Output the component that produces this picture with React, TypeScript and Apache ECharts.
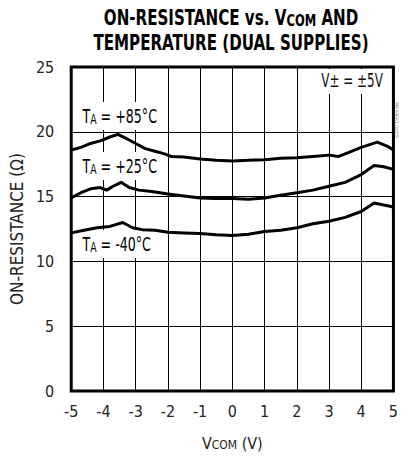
import React, { useEffect, useRef } from "react";
import * as echarts from "echarts";

const vcom85 = [-5, -4.7, -4.4, -4.1, -3.8, -3.55, -3.3, -3.0, -2.7, -2.4, -2.1, -1.9, -1.5, -1.0, -0.5, 0, 0.5, 1.0, 1.5, 2.0, 2.5, 3.0, 3.3, 3.6, 4.0, 4.5, 4.8, 5.0];
const ron85 = [18.6, 18.8, 19.1, 19.3, 19.6, 19.8, 19.5, 19.1, 18.7, 18.5, 18.3, 18.1, 18.05, 17.9, 17.8, 17.75, 17.8, 17.85, 17.95, 18.0, 18.1, 18.2, 18.1, 18.4, 18.8, 19.2, 18.9, 18.6];

const vcom25 = [-5, -4.7, -4.4, -4.1, -3.9, -3.7, -3.45, -3.2, -2.9, -2.5, -2.0, -1.5, -1.0, -0.5, 0, 0.5, 1.0, 1.5, 2.0, 2.5, 3.0, 3.5, 4.0, 4.4, 4.7, 5.0];
const ron25 = [14.9, 15.3, 15.6, 15.7, 15.5, 15.8, 16.1, 15.7, 15.5, 15.4, 15.2, 15.05, 14.9, 14.85, 14.85, 14.8, 14.9, 15.1, 15.3, 15.5, 15.8, 16.1, 16.7, 17.4, 17.3, 17.1];

const vcomM40 = [-5, -4.6, -4.2, -3.8, -3.4, -3.1, -2.8, -2.4, -2.0, -1.5, -1.0, -0.5, 0, 0.5, 1.0, 1.5, 2.0, 2.5, 3.0, 3.5, 4.0, 4.4, 4.7, 5.0];
const ronM40 = [12.2, 12.4, 12.6, 12.7, 13.0, 12.6, 12.45, 12.4, 12.25, 12.2, 12.15, 12.05, 12.0, 12.1, 12.3, 12.4, 12.6, 12.9, 13.1, 13.4, 13.85, 14.5, 14.35, 14.2];

const xTicks = ["-5", "-4", "-3", "-2", "-1", "0", "1", "2", "3", "4", "5"];
const yTicks = ["0", "5", "10", "15", "20", "25"];

const NARROW = "'DejaVu Sans Condensed', sans-serif";

function pairs(xs: number[], ys: number[]) {
  return xs.map((x, i) => [x, ys[i]]);
}

export default function App() {
  const ref = useRef<HTMLDivElement>(null);
  useEffect(() => {
    if (!ref.current) return;
    const chart = echarts.init(ref.current, null, { renderer: "svg" });
    const lineStyle = { color: "#000", width: 3 };
    const labelRich = {
      t: { fontFamily: NARROW, fontSize: 19, color: "#111", verticalAlign: "bottom", lineHeight: 20 },
      s: { fontFamily: NARROW, fontSize: 14, color: "#111", verticalAlign: "bottom", lineHeight: 14 },
    };
    const titleRich = {
      a: { fontFamily: NARROW, fontWeight: "bold", fontSize: 21, color: "#000", lineHeight: 24, verticalAlign: "bottom" },
      s: { fontFamily: NARROW, fontWeight: "bold", fontSize: 16, color: "#000", lineHeight: 17, verticalAlign: "bottom" },
    };
    const tLabel = (x: number, y: number, text: string) => ({
      type: "group",
      x,
      y,
      scaleX: 0.74,
      z: 1,
      children: [
        {
          type: "text",
          x: 0,
          y: 0,
          z: 1,
          style: { text, rich: labelRich, backgroundColor: "#fff", padding: [4, 6, 4, 6] },
        },
      ],
    });
    chart.setOption({
      animation: false,
      backgroundColor: "#fff",
      grid: { left: 67, right: 7, top: 67, bottom: 64, show: true, borderColor: "#000", borderWidth: 3, backgroundColor: "transparent" },
      xAxis: {
        type: "value",
        min: -5,
        max: 5,
        interval: 1,
        axisLine: { show: false },
        axisTick: { show: false },
        splitLine: { show: true, lineStyle: { color: "#000", width: 1 } },
        axisLabel: {
          margin: 12,
          fontFamily: NARROW,
          fontSize: 16,
          color: "#222",
          formatter: (v: number) => xTicks[Math.round(v) + 5],
        },
        name: "{a|V}{s|COM}{a| (V)}",
        nameLocation: "middle",
        nameGap: 40,
        nameTextStyle: {
          rich: {
            a: { fontFamily: NARROW, fontSize: 16, color: "#222", lineHeight: 20, verticalAlign: "bottom" },
            s: { fontFamily: NARROW, fontSize: 12, color: "#222", lineHeight: 14, verticalAlign: "bottom" },
          },
        },
      },
      yAxis: {
        type: "value",
        min: 0,
        max: 25,
        interval: 5,
        axisLine: { show: false },
        axisTick: { show: false },
        splitLine: { show: true, lineStyle: { color: "#000", width: 1 } },
        axisLabel: {
          margin: 17,
          fontFamily: NARROW,
          fontSize: 16,
          color: "#222",
          formatter: (v: number) => yTicks[Math.round(v / 5)],
        },
        name: "ON-RESISTANCE (Ω)",
        nameLocation: "middle",
        nameGap: 44,
        nameTextStyle: { fontFamily: NARROW, fontSize: 17, color: "#222" },
      },
      graphic: [
        {
          type: "group",
          x: 231,
          y: 4,
          scaleX: 0.8,
          children: [
            { type: "text", x: 0, y: 0, style: { text: "{a|ON-RESISTANCE vs. V}{s|COM}{a| AND}", rich: titleRich, align: "center" } },
            { type: "text", x: 0, y: 25, style: { text: "{a|TEMPERATURE (DUAL SUPPLIES)}", rich: titleRich, align: "center" } },
          ],
        },
        tLabel(78, 102, "{t|T}{s|A}{t| = +85°C}"),
        tLabel(78, 152, "{t|T}{s|A}{t| = +25°C}"),
        tLabel(78, 230, "{t|T}{s|A}{t| = -40°C}"),
        {
          type: "group",
          x: 387,
          y: 69,
          scaleX: 0.7,
          z: 1,
          children: [
            {
              type: "text",
              x: 0,
              y: 0,
              z: 1,
              style: { text: "V± = ±5V", font: "19px " + NARROW, fill: "#111", align: "right", backgroundColor: "#fff", padding: [2, 6, 4, 6] },
            },
          ],
        },
        {
          type: "text",
          x: 397,
          y: 120,
          rotation: -Math.PI / 2,
          style: { text: "MAX4661 toc05", font: "5px " + NARROW, fill: "#888", align: "center", verticalAlign: "middle" },
        },
      ],
      series: [
        { type: "line", z: 3, data: pairs(vcom85, ron85), showSymbol: false, lineStyle },
        { type: "line", z: 3, data: pairs(vcom25, ron25), showSymbol: false, lineStyle },
        { type: "line", z: 3, data: pairs(vcomM40, ronM40), showSymbol: false, lineStyle },
      ],
    });
    return () => chart.dispose();
  }, []);
  return <div ref={ref} style={{ width: 401, height: 456, position: "absolute", left: 0, top: 0 }} />;
}
